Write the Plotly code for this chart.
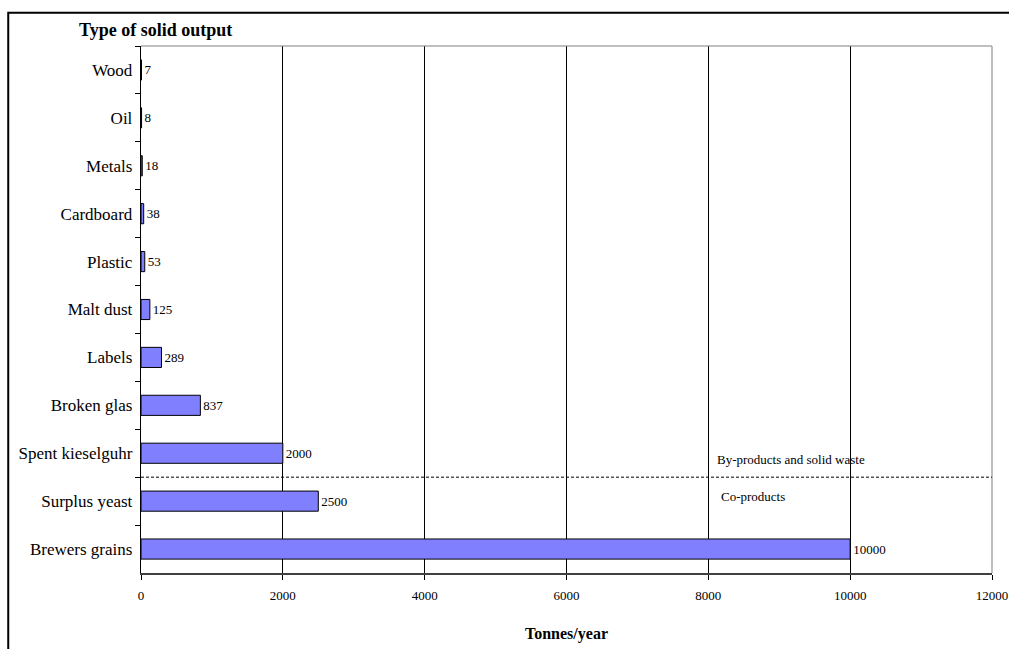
import plotly.graph_objects as go

categories = ["Wood", "Oil", "Metals", "Cardboard", "Plastic", "Malt dust", "Labels",
              "Broken glas", "Spent kieselguhr", "Surplus yeast", "Brewers grains"]
values = [7, 8, 18, 38, 53, 125, 289, 837, 2000, 2500, 10000]
x_ticks = [0, 2000, 4000, 6000, 8000, 10000, 12000]

serif = "Liberation Serif, Times New Roman, serif"

fig = go.Figure()
fig.add_trace(go.Bar(
    y=categories, x=values, orientation="h",
    marker=dict(color="#8080FF", line=dict(color="black", width=1)),
    width=0.42,
    text=[str(v) for v in values], textposition="outside",
    textfont=dict(family=serif, size=13, color="black"),
    cliponaxis=False,
))

fig.update_layout(
    width=1009, height=649,
    margin=dict(l=141, r=17, t=46, b=76, autoexpand=False),
    paper_bgcolor="white", plot_bgcolor="white",
    showlegend=False,
    font=dict(family=serif, color="black"),
    xaxis=dict(
        range=[0, 12000], tickvals=x_ticks, ticktext=[str(t) for t in x_ticks],
        showgrid=True, gridcolor="black", gridwidth=1, zeroline=False,
        showline=True, linecolor="#404040", linewidth=2,
        ticks="outside", ticklen=5, tickcolor="black",
        ticklabelstandoff=4, automargin=False,
        tickfont=dict(family=serif, size=13),
        title=dict(text="<b>Tonnes/year</b>", font=dict(family=serif, size=16), standoff=26),
    ),
    yaxis=dict(
        categoryorder="array", categoryarray=categories, autorange="reversed",
        showgrid=False, showline=True, linecolor="black", linewidth=1,
        ticks="outside", ticklen=5, tickson="boundaries", tickcolor="black",
        tickfont=dict(family=serif, size=17), automargin=False,
        ticksuffix=" ",
    ),
    bargap=0.58,
)

# plot area top & right borders (gray)
fig.add_shape(type="line", xref="paper", yref="paper", x0=0, x1=1, y0=1, y1=1,
              line=dict(color="#808080", width=1))
fig.add_shape(type="line", xref="paper", yref="paper", x0=1, x1=1, y0=0, y1=1,
              line=dict(color="#808080", width=1))
# outer chart border
fig.add_shape(type="rect", xref="paper", yref="paper", x0=-0.156, x1=1.2, y0=-0.4, y1=1.063,
              line=dict(color="black", width=2), layer="above")
# dashed separator
fig.add_shape(type="line", xref="paper", yref="y", x0=0, x1=1, y0=8.5, y1=8.5,
              line=dict(color="black", width=1, dash="3px,2px"))

fig.add_annotation(x=8100, y=8.5, xref="x", yref="y", text="By-products and solid waste",
                   showarrow=False, xanchor="left", yanchor="middle", yshift=18,
                   font=dict(family=serif, size=13))
fig.add_annotation(x=8150, y=8.5, xref="x", yref="y", text="Co-products",
                   showarrow=False, xanchor="left", yanchor="middle", yshift=-19,
                   font=dict(family=serif, size=13))
fig.add_annotation(x=-0.075, y=1.03, xref="paper", yref="paper", text="<b>Type of solid output</b>",
                   showarrow=False, xanchor="left", yanchor="middle",
                   font=dict(family=serif, size=18))

fig.write_html("out.html", config={"displayModeBar": False})

with open("out.html", "r", encoding="utf-8") as f:
    html = f.read()
html = html.replace("<body>", '<body style="margin:0;overflow:hidden">', 1)
with open("out.html", "w", encoding="utf-8") as f:
    f.write(html)
